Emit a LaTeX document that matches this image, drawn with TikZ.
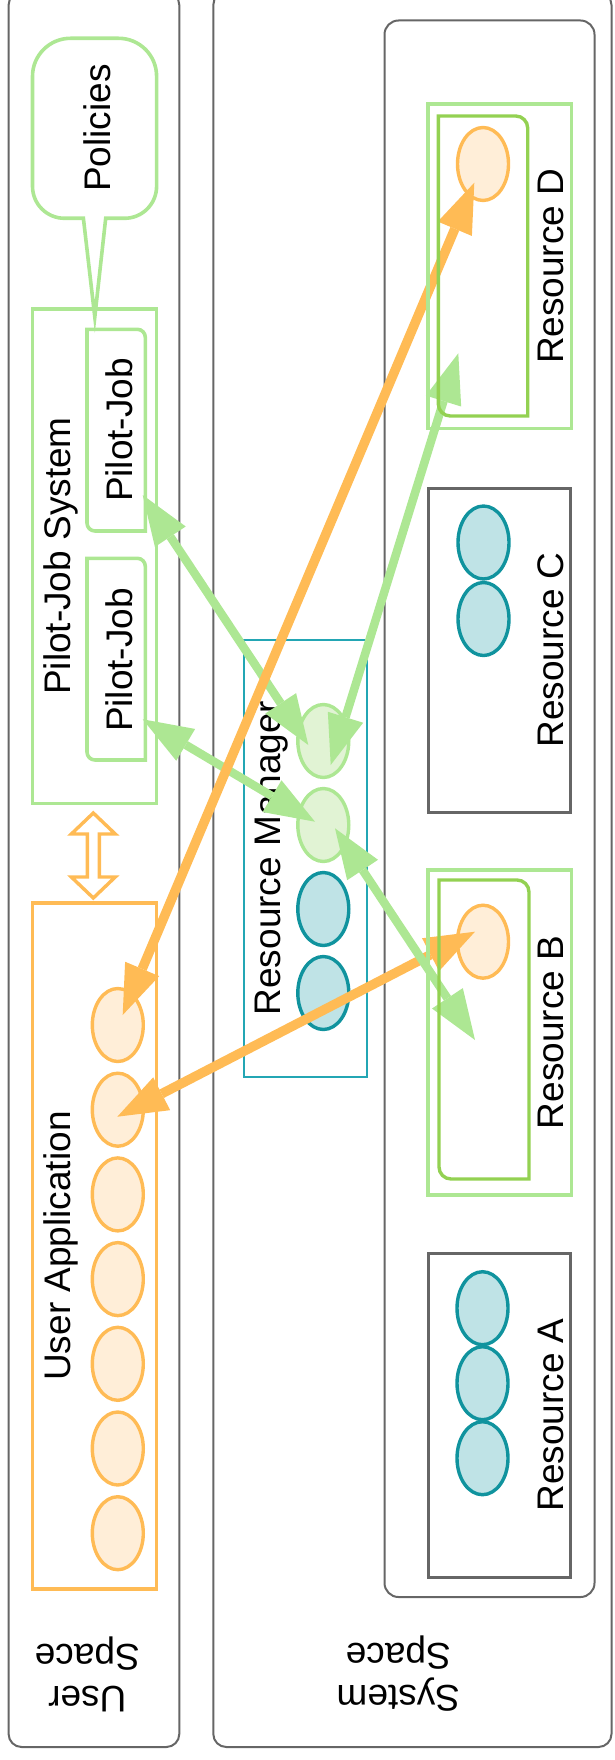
\documentclass[tikz,border=0pt]{standalone}
\usepackage{fontspec}
\setmainfont{Liberation Sans}
\usetikzlibrary{arrows.meta,shapes.geometric,calc}

\definecolor{edgegray}{HTML}{666666}
\definecolor{orangeline}{HTML}{FFBB55}
\definecolor{orangefill}{HTML}{FFEED8}
\definecolor{greenline}{HTML}{ADE793}
\definecolor{greendark}{HTML}{93D152}
\definecolor{greenfill}{HTML}{E1F3D4}
\definecolor{tealline}{HTML}{10939E}
\definecolor{tealfill}{HTML}{BFE3E6}
\definecolor{rmline}{HTML}{23A6B4}

% box with rounded north-east and south-west corners, drawn around a named node
\newcommand{\neswbox}[3]{%
  \draw[#3] (#1.north west) -- ($(#1.north east)+(-#2,0)$)
    .. controls ($(#1.north east)+({-0.448*#2},0)$) and ($(#1.north east)+(0,{0.448*#2})$) .. ($(#1.north east)+(0,#2)$)
    -- (#1.south east) -- ($(#1.south west)+(#2,0)$)
    .. controls ($(#1.south west)+({0.448*#2},0)$) and ($(#1.south west)+(0,{-0.448*#2})$) .. ($(#1.south west)+(0,-#2)$)
    -- cycle;}

\begin{document}
\begin{tikzpicture}[x=1pt,y=-1pt,
  font=\fontsize{37}{42}\selectfont,
  frame/.style={rectangle, draw=none, inner sep=0pt, outer sep=0pt},
  panel/.style={frame, draw=edgegray, line width=2pt, rounded corners=13pt},
  resbox/.style={frame, draw=edgegray, line width=3pt},
  greenbox/.style={frame, draw=greenline, line width=3.6pt},
  orangebox/.style={frame, draw=orangeline, line width=3.6pt},
  rmbox/.style={frame, draw=rmline, line width=2pt},
  blob/.style={ellipse, inner sep=0pt, outer sep=0pt, minimum width=51pt, minimum height=73pt, line width=3.4pt},
  task/.style={blob, draw=orangeline, fill=orangefill},
  core/.style={blob, draw=tealline, fill=tealfill},
  pilot/.style={blob, draw=greenline, fill=greenfill},
  lbl/.style={inner sep=0pt, outer sep=0pt, text=black},
  vlbl/.style={lbl, rotate=90, anchor=base},
  orangeArrow/.style={draw=orangeline, line width=9.5pt,
    {Triangle[length=50pt,width=37pt,line width=0pt]}-{Triangle[length=50pt,width=37pt,line width=0pt]}},
  greenArrow/.style={draw=greenline, line width=8.5pt,
    {Triangle[length=50pt,width=37pt,line width=0pt]}-{Triangle[length=50pt,width=37pt,line width=0pt]}}
]
\useasboundingbox (0,0) rectangle (614,1760);
\clip (0,0) rectangle (614,1760);

% the two spaces and the resource pool
\node[panel, minimum width=170.7pt, minimum height=1755pt] (userSpace) at (93.95,869.5) {};
\node[panel, minimum width=398.2pt, minimum height=1755pt] (systemSpace) at (412.4,869.5) {};
\node[panel, rounded corners=14pt, minimum width=210pt, minimum height=1576.5pt] (pool) at (489.5,808.75) {};

\node[lbl, rotate=180, align=center] (userSpaceT) at (87.3,1674) {User\\Space};
\node[lbl, rotate=180, align=center] (systemSpaceT) at (398.3,1674) {System\\Space};

% policies callout
\node[frame, minimum width=124.1pt, minimum height=180pt] (pol) at (94.55,128.3) {};
% pilot-job system
\node[greenbox, minimum width=124pt, minimum height=494.5pt] (pjs) at (94.6,556.25) {};
\draw[draw=greenline, line width=3.6pt, line join=miter]
  ($(pol.south)+(-11.15,0)$) -- ($(pol.south west)+(32,0)$)
  .. controls ($(pol.south west)+(14.3,0)$) and ($(pol.south west)+(0,-14.3)$) .. ($(pol.south west)+(0,-32)$)
  -- ($(pol.north west)+(0,38)$)
  .. controls ($(pol.north west)+(0,17)$) and ($(pol.north west)+(17,0)$) .. ($(pol.north west)+(38,0)$)
  -- ($(pol.north east)+(-38,0)$)
  .. controls ($(pol.north east)+(-17,0)$) and ($(pol.north east)+(0,17)$) .. ($(pol.north east)+(0,38)$)
  -- ($(pol.south east)+(0,-32)$)
  .. controls ($(pol.south east)+(0,-14.3)$) and ($(pol.south east)+(-14.3,0)$) .. ($(pol.south east)+(-32,0)$)
  -- ($(pol.south)+(11.15,0)$) -- ($(pjs.north)+(0.2,8)$) -- cycle;
\node[vlbl] (polT) at (110,128) {Policies};

\node[vlbl] (pjsT) at (70.5,556) {Pilot-Job System};
\node[frame, minimum width=58.3pt, minimum height=201.7pt] (pj1) at (116.15,430.15) {};
\node[frame, minimum width=58.3pt, minimum height=201.7pt] (pj2) at (116.15,659.15) {};
\neswbox{pj1}{8}{draw=greenline, line width=3.6pt}
\neswbox{pj2}{8}{draw=greenline, line width=3.6pt}
\node[vlbl] (pj1T) at (132,430) {Pilot-Job};
\node[vlbl] (pj2T) at (132,660) {Pilot-Job};

% user application
\node[orangebox, minimum width=124pt, minimum height=686pt] (ua) at (94.6,1246) {};
\node[vlbl] (uaT) at (70.5,1246) {User Application};
\foreach \k in {1,...,7}{
  \node[task] (ua\k) at (117.8,{1025+84.7*(\k-1)}) {};
}

% hollow double arrow between the pilot-job system and the application
\coordinate (dbl) at (93.3,855.5);
\draw[draw=orangeline, fill=white, line width=3.4pt, line join=miter]
  ($(dbl)+(0,-42.5)$) -- ($(dbl)+(22,-21.5)$) -- ($(dbl)+(6,-21.5)$) -- ($(dbl)+(6,21.5)$)
  -- ($(dbl)+(22,21.5)$) -- ($(dbl)+(0,42.5)$) -- ($(dbl)+(-22,21.5)$) -- ($(dbl)+(-6,21.5)$)
  -- ($(dbl)+(-6,-21.5)$) -- ($(dbl)+(-22,-21.5)$) -- cycle;

% resource manager
\node[rmbox, minimum width=123pt, minimum height=437pt] (rm) at (305.5,858.5) {};
\node[vlbl] (rmT) at (280,858) {Resource Manager};
\node[pilot] (rm1) at (323.3,741) {};
\node[pilot] (rm2) at (323.3,825) {};
\node[core] (rm3) at (323.3,909) {};
\node[core] (rm4) at (323.3,993) {};

% resources
\node[frame, minimum width=143.8pt, minimum height=324pt] (rdOut) at (499.6,266.3) {};
\node[frame, minimum width=89.4pt, minimum height=300pt] (rdIn) at (483,266) {};
\node[task] (rdE) at (483,164) {};
\node[vlbl] (rdT) at (563.5,266.3) {Resource D};

\node[resbox, minimum width=142.5pt, minimum height=323.7pt] (rc) at (499.25,650.15) {};
\node[core] (rc1) at (483.5,542.5) {};
\node[core] (rc2) at (483.5,619) {};
\node[vlbl] (rcT) at (563.5,650) {Resource C};

\node[frame, minimum width=143.8pt, minimum height=325pt] (rbOut) at (499.6,1032.5) {};
\node[frame, minimum width=90pt, minimum height=299pt] (rbIn) at (484,1029.5) {};
\node[task] (rbE) at (483,941.7) {};
\node[vlbl] (rbT) at (563.5,1032.5) {Resource B};

\node[resbox, minimum width=142.5pt, minimum height=324pt] (ra) at (499.25,1415) {};
\node[core] (ra1) at (482.5,1308.2) {};
\node[core] (ra2) at (482.5,1383.2) {};
\node[core] (ra3) at (482.5,1458.2) {};
\node[vlbl] (raT) at (563.5,1415) {Resource A};

% connectors
\draw[greenArrow] ($(pj1.south east)+(-2.6,-36)$) -- ($(rm1.center)+(-15,4)$);
\draw[greenArrow] ($(pj2.south east)+(-2.6,-40.7)$) -- ($(rm2.center)+(-8.3,-3.3)$);
\draw[greenArrow] ($(rm1.center)+(7.4,24)$) -- ($(rdIn.south west)+(20,-62.7)$);
\draw[orangeArrow] ($(rdE.center)+(-8.7,18.7)$) -- ($(ua1.center)+(4.9,-10)$);
\draw[orangeArrow] ($(ua2.center)+(-0.5,7)$) -- ($(rbE.center)+(-8,-10)$);
\draw[greenArrow] ($(rm2.center)+(11.7,3.3)$) -- ($(rbIn.center)+(-9,10.5)$);

% resource frames on top
\draw[draw=greenline, line width=3.6pt] (rdOut.north west) rectangle (rdOut.south east);
\draw[draw=greenline, line width=3.6pt] (rbOut.north west) rectangle (rbOut.south east);
\neswbox{rdIn}{12}{draw=greendark, line width=3.4pt}
\neswbox{rbIn}{12}{draw=greendark, line width=3.4pt}
\end{tikzpicture}
\end{document}
